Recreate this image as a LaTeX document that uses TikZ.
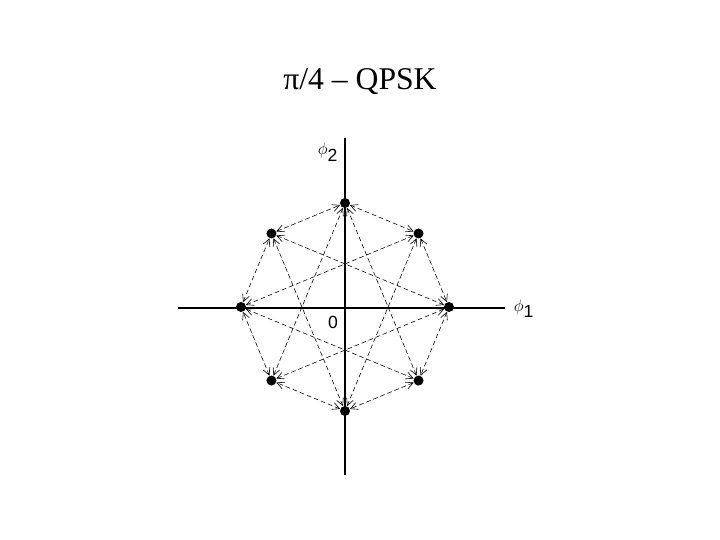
\documentclass[tikz,border=0pt]{standalone}
\usepackage{fontspec}
\setmainfont{Liberation Serif}
\setsansfont{Liberation Sans}
\usetikzlibrary{arrows.meta}
\tikzset{
  pt/.style={circle,fill,inner sep=0pt,minimum size=0.3cm},
  trans/.style={dashed,dash pattern=on 4pt off 2.5pt,line width=0.5pt,
    {Straight Barb[length=6pt,width=6pt]}-{Straight Barb[length=6pt,width=6pt]}}
}
\begin{document}
\begin{tikzpicture}[x=0.03cm,y=-0.03cm]
\useasboundingbox (0,0) rectangle (720,540);
\node (title) at (360,82) {\fontsize{27}{32}\selectfont π/4 -- QPSK};
\draw [line width=1.5pt] (178,308) -- (505,308);
\draw [line width=1.5pt] (345,138) -- (345,475);
\node (ax1) at (524,309) {\fontsize{15}{18}\selectfont $\phi_{\textsf{1}}$};
\node (ax2) at (328,152) {\fontsize{15}{18}\selectfont $\phi_{\textsf{2}}$};
\node (orig) at (333,322) {\fontsize{15}{18}\selectfont\sffamily 0};
\begin{scope}[shift={(345,307)}]
\foreach \a in {0,...,7}
  \node [pt] (p\a) at (\a*45:104) {};
\end{scope}
\foreach \i in {0,...,7} {
  \pgfmathtruncatemacro{\j}{mod(\i+1,8)}
  \pgfmathtruncatemacro{\k}{mod(\i+3,8)}
  \draw [trans] (p\i) -- (p\j);
  \draw [trans] (p\i) -- (p\k);
}
\end{tikzpicture}
\end{document}
